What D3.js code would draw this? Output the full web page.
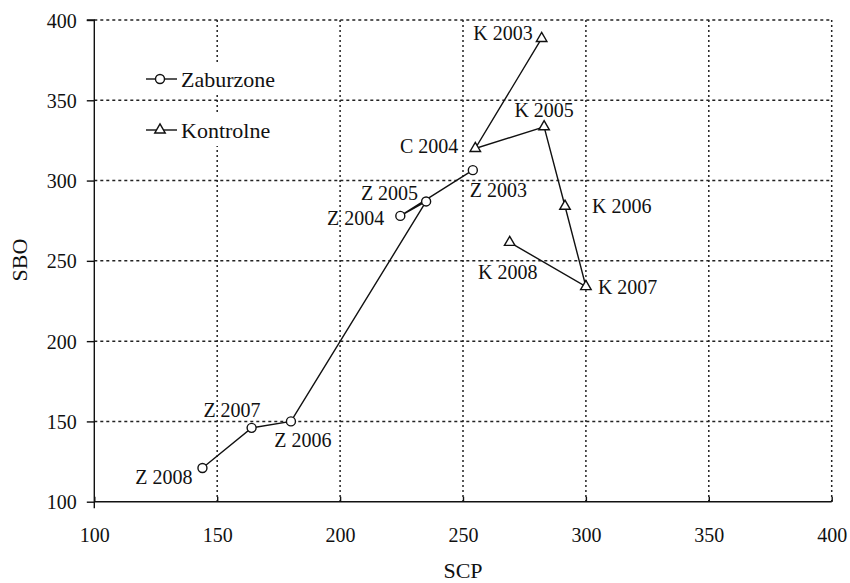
<!DOCTYPE html>
<html>
<head>
<meta charset="utf-8">
<script src="https://cdn.jsdelivr.net/npm/d3@7"></script>
<style>
  body { margin: 0; background: #fff; }
  text { font-family: "Liberation Serif", "Times New Roman", serif; fill: #111; }
</style>
</head>
<body>
<div id="chart"></div>
<script>
// Zaburzone series
const zLabels = ["Z 2003", "Z 2004", "Z 2005", "Z 2006", "Z 2007", "Z 2008"];
const zSCP = [254, 224.5, 235, 180, 164, 144];
const zSBO = [306.5, 278, 287, 150, 146, 121];

// Kontrolne series
const kLabels = ["K 2003", "C 2004", "K 2005", "K 2006", "K 2007", "K 2008"];
const kSCP = [282, 255, 283, 291.5, 300, 269];
const kSBO = [388.5, 320, 333.5, 284, 234, 261.5];

const ticks = [100, 150, 200, 250, 300, 350, 400];
const legendNames = ["Zaburzone", "Kontrolne"];

// label placement relative to the point: [dx, dy, anchor]
const zLabelPos = [[-3, 27, "start"], [-16, 9, "end"], [-8, -1, "end"], [12, 26, "middle"], [9, -11, "end"], [-10, 16, "end"]];
const kLabelPos = [[-9, 2, "end"], [-17, 5, "end"], [0, -10, "middle"], [27, 7, "start"], [12, 7, "start"], [-2, 37, "middle"]];

const width = 850, height = 583;
const plot = {left: 94.3, right: 831.7, top: 20, bottom: 501.7};

const svg = d3.select("#chart")
    .append("svg")
    .attr("width", width)
    .attr("height", height);

const x = d3.scaleLinear().domain([100, 400]).range([plot.left, plot.right]);
const y = d3.scaleLinear().domain([100, 400]).range([plot.bottom, plot.top]);

// dotted grid
svg.append("g")
    .selectAll("line")
    .data(ticks.slice(1))
    .join("line")
        .attr("x1", d => x(d)).attr("x2", d => x(d))
        .attr("y1", plot.top).attr("y2", plot.bottom)
        .attr("stroke", "#222")
        .attr("stroke-width", 1.5)
        .attr("stroke-dasharray", "2,3");

svg.append("g")
    .selectAll("line")
    .data(ticks.slice(1))
    .join("line")
        .attr("x1", plot.left).attr("x2", plot.right)
        .attr("y1", d => y(d)).attr("y2", d => y(d))
        .attr("stroke", "#222")
        .attr("stroke-width", 1.5)
        .attr("stroke-dasharray", "3,3");

// axes
const xAxis = svg.append("g")
    .attr("transform", "translate(0," + plot.bottom + ")")
    .call(d3.axisBottom(x).tickValues(ticks).tickSize(-5).tickPadding(0).tickFormat(d3.format("d")));
xAxis.select(".domain").attr("d", "M" + plot.left + ",0H" + plot.right);
xAxis.selectAll("text")
    .attr("y", 40)
    .attr("dy", 0)
    .style("font-size", "20px")
    .style("font-family", "Liberation Serif");

const yAxis = svg.append("g")
    .attr("transform", "translate(" + plot.left + ",0)")
    .call(d3.axisLeft(y).tickValues(ticks).tickSize(7.5).tickPadding(10).tickFormat(d3.format("d")));
yAxis.select(".domain").attr("d", "M-7.5," + plot.top + "H0V" + (plot.bottom + 6.5));
yAxis.selectAll("text")
    .attr("dy", "0.35em")
    .style("font-size", "20px")
    .style("font-family", "Liberation Serif");

svg.selectAll(".domain, .tick line").attr("stroke", "#111").attr("stroke-width", 1.4);

// axis titles
svg.append("text")
    .attr("x", (plot.left + plot.right) / 2)
    .attr("y", 578)
    .attr("text-anchor", "middle")
    .style("font-size", "22px")
    .text("SCP");

svg.append("text")
    .attr("transform", "translate(27,260) rotate(-90)")
    .attr("text-anchor", "middle")
    .style("font-size", "22px")
    .text("SBO");

const lineGen = d3.line().x(d => x(d[0])).y(d => y(d[1]));
const zData = zSCP.map((v, i) => [v, zSBO[i]]);
const kData = kSCP.map((v, i) => [v, kSBO[i]]);
const tri = d3.symbol().type(d3.symbolTriangle).size(48);

function drawSeries(data, labels, pos, marker) {
    svg.append("path")
        .datum(data)
        .attr("d", lineGen)
        .attr("fill", "none")
        .attr("stroke", "#111")
        .attr("stroke-width", 1.4);

    if (marker == "circle") {
        svg.append("g").selectAll("circle")
            .data(data)
            .join("circle")
                .attr("cx", d => x(d[0]))
                .attr("cy", d => y(d[1]))
                .attr("r", 4.5)
                .attr("fill", "#fff")
                .attr("stroke", "#111")
                .attr("stroke-width", 1.4);
    } else {
        svg.append("g").selectAll("path")
            .data(data)
            .join("path")
                .attr("d", tri)
                .attr("transform", d => "translate(" + x(d[0]) + "," + y(d[1]) + ")")
                .attr("fill", "#fff")
                .attr("stroke", "#111")
                .attr("stroke-width", 1.4);
    }

    svg.append("g").selectAll("text")
        .data(data)
        .join("text")
            .attr("x", (d, i) => x(d[0]) + pos[i][0])
            .attr("y", (d, i) => y(d[1]) + pos[i][1])
            .attr("text-anchor", (d, i) => pos[i][2])
            .style("font-size", "20px")
            .text((d, i) => labels[i]);
}

drawSeries(zData, zLabels, zLabelPos, "circle");
drawSeries(kData, kLabels, kLabelPos, "triangle");

// legend
const legend = svg.append("g");
legendNames.forEach((name, i) => {
    const ly = 79 + i * 51;
    legend.append("rect")
        .attr("x", 138).attr("y", ly - 16)
        .attr("width", 150).attr("height", 32)
        .attr("fill", "#fff");
    legend.append("line")
        .attr("x1", 146).attr("x2", 177)
        .attr("y1", ly).attr("y2", ly)
        .attr("stroke", "#111").attr("stroke-width", 1.4);
    if (i == 0) {
        legend.append("circle")
            .attr("cx", 160).attr("cy", ly).attr("r", 4.5)
            .attr("fill", "#fff").attr("stroke", "#111").attr("stroke-width", 1.4);
    } else {
        legend.append("path")
            .attr("d", tri)
            .attr("transform", "translate(160," + ly + ")")
            .attr("fill", "#fff").attr("stroke", "#111").attr("stroke-width", 1.4);
    }
    legend.append("text")
        .attr("x", 181).attr("y", ly + 7.5)
        .style("font-size", "22px")
        .text(name);
});
</script>
</body>
</html>
